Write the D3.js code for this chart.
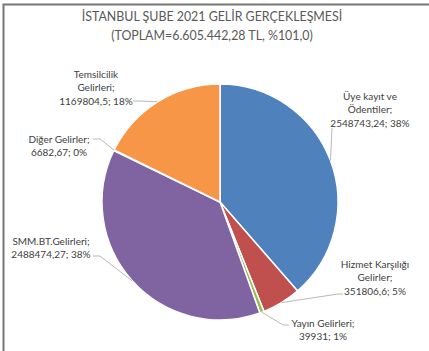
<!DOCTYPE html>
<html><head><meta charset="utf-8">
<script src="https://cdn.jsdelivr.net/npm/d3@7"></script>
<style>html,body{margin:0;padding:0;background:#fff;}svg{display:block;}</style>
</head><body>
<script>
const titleLines = ["İSTANBUL ŞUBE 2021 GELİR GERÇEKLEŞMESİ", "(TOPLAM=6.605.442,28 TL, %101,0)"];
const categories = ["Üye kayıt ve Ödentiler", "Hizmet Karşılığı Gelirler", "Yayın Gelirleri", "SMM.BT.Gelirleri", "Diğer Gelirler", "Temsilcilik Gelirleri"];
const labelNames = [["Üye kayıt ve", "Ödentiler;"], ["Hizmet Karşılığı", "Gelirler;"], ["Yayın Gelirleri;"], ["SMM.BT.Gelirleri;"], ["Diğer Gelirler;"], ["Temsilcilik", "Gelirleri;"]];
const values = [2548743.24, 351806.6, 39931, 2488474.27, 6682.67, 1169804.5];
const valueLabels = ["2548743,24", "351806,6", "39931", "2488474,27", "6682,67", "1169804,5"];
const percentLabels = ["38%", "5%", "1%", "38%", "0%", "18%"];
const colors = ["#4F81BD", "#C0504D", "#9BBB59", "#8064A2", "#4BACC6", "#F79646"];

// label layout (text centre x, first baseline y, leader elbow points)
const layout = [
  {x: 370, y: 100, pts: [[332, 128]]},
  {x: 375, y: 268, pts: [[343, 294], [338, 294]]},
  {x: 323, y: 327, pts: [[289, 325], [283, 325]]},
  {x: 51, y: 245, pts: [[93, 256], [100, 256]]},
  {x: 59, y: 143, pts: [[93, 139], [100, 139]]},
  {x: 96, y: 78, pts: [[133, 101], [140, 101]]}
];

const W = 429, H = 351;
const cx = 220, cy = 202, R = 118;
const font = "Lato, 'Open Sans', sans-serif";

const svg = d3.select("body").append("svg").attr("width", W).attr("height", H);

// chart border (cropped: only top & left visible)
svg.append("rect").attr("x", 3.5).attr("y", 4.5).attr("width", W + 10).attr("height", H + 10)
  .attr("fill", "#fff").attr("stroke", "#767676").attr("stroke-width", 2);

// title
const title = svg.append("text").attr("text-anchor", "middle").attr("fill", "#595959")
  .style("font-family", font).style("font-size", "12.4px");
title.selectAll("tspan").data(titleLines).join("tspan")
  .attr("x", 212).attr("y", (d, i) => 21 + i * 19).text(d => d);

const pie = d3.pie().sort(null).value(d => d)(values);
const arc = d3.arc().innerRadius(0).outerRadius(R);

const g = svg.append("g").attr("transform", `translate(${cx},${cy})`);
g.selectAll("path").data(pie).join("path")
  .attr("d", arc).attr("fill", (d, i) => colors[i])
  .attr("stroke", "#fff").attr("stroke-width", 1.5).attr("stroke-linejoin", "round");

// leader lines
const line = d3.line();
pie.forEach((d, i) => {
  const a = (d.startAngle + d.endAngle) / 2;
  const edge = [cx + R * Math.sin(a), cy - R * Math.cos(a)];
  svg.append("path").attr("d", line(layout[i].pts.concat([edge])))
    .attr("fill", "none").attr("stroke", "#a6a6a6").attr("stroke-width", 0.8);
});

// labels
pie.forEach((d, i) => {
  const lines = labelNames[i].concat([valueLabels[i] + "; " + percentLabels[i]]);
  const t = svg.append("text").attr("text-anchor", "middle").attr("fill", "#404040")
    .style("font-family", font).style("font-size", "10px");
  t.selectAll("tspan").data(lines).join("tspan")
    .attr("x", layout[i].x).attr("y", (s, j) => layout[i].y + j * 13.3).text(s => s);
});
</script>
</body></html>
